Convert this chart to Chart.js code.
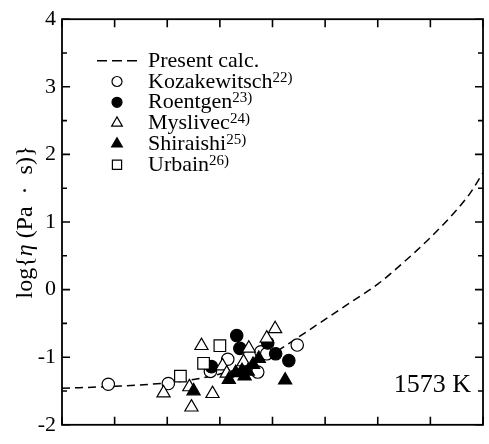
<!DOCTYPE html>
<html>
<head>
<meta charset="utf-8">
<style>
  html, body { margin: 0; padding: 0; background: #fff; }
  #wrap { width: 489px; height: 444px; position: relative; }
</style>
<script src="https://cdn.jsdelivr.net/npm/chart.js@4.4.1/dist/chart.umd.min.js"></script>
</head>
<body>
<div id="wrap"><canvas id="chart" width="489" height="444"></canvas></div>
<script>
// Calculated viscosity curve (log η in Pa·s)
const calcX = [0, 1, 2, 2.5, 3, 3.5, 4, 4.5, 5, 5.5, 6, 6.5, 7, 7.5, 7.75, 8];
const calcY = [-1.46, -1.43, -1.38, -1.33, -1.25, -1.13, -0.95, -0.70, -0.44, -0.18, 0.08, 0.41, 0.77, 1.18, 1.42, 1.73];

// Measured data by source
const kozakewitschX = [0.88, 2.02, 2.82, 3.15, 3.72, 3.78, 3.89, 4.47];
const kozakewitschY = [-1.40, -1.39, -1.21, -1.03, -1.22, -0.92, -0.95, -0.82];

const roentgenX = [2.84, 3.32, 3.38, 3.91, 4.06, 4.31];
const roentgenY = [-1.14, -0.68, -0.87, -0.79, -0.95, -1.05];

const myslivecX = [1.93, 2.42, 2.46, 2.86, 2.65, 3.55, 4.05, 3.89, 3.05, 3.13, 3.45];
const myslivecY = [-1.53, -1.44, -1.74, -1.54, -0.83, -0.87, -0.58, -0.72, -1.13, -1.24, -1.07];

const shiraishiX = [2.50, 4.24, 3.17, 3.30, 3.42, 3.53, 3.63, 3.74, 3.47];
const shiraishiY = [-1.50, -1.34, -1.33, -1.23, -1.20, -1.21, -1.11, -1.02, -1.28];

const urbainX = [2.25, 2.69, 3.00];
const urbainY = [-1.28, -1.09, -0.83];

const seriesNames = ['Present calc.', 'Kozakewitsch', 'Roentgen', 'Myslivec', 'Shiraishi', 'Urbain'];
const seriesRefs  = ['', '22)', '23)', '24)', '25)', '26)'];

const yTickLabels = ['-2', '-1', '0', '1', '2', '3', '4'];
const tempLabel = '1573 K';

const SERIF = '"Liberation Serif", "DejaVu Serif", serif';

function pts(xs, ys) { return xs.map((x, i) => ({ x: x, y: ys[i] })); }

function markerSet(name, ref, xs, ys, style, filled, radius, keyRadius, order) {
  return {
    label: name,
    ref: ref,
    data: pts(xs, ys),
    pointStyle: style,
    pointRadius: radius,
    pointHoverRadius: radius,
    pointBorderWidth: 1.2,
    borderColor: '#000',
    backgroundColor: filled ? '#000' : '#fff',
    pointBackgroundColor: filled ? '#000' : '#fff',
    pointBorderColor: '#000',
    showLine: false,
    order: order,
    keyRadius: keyRadius
  };
}

const datasets = [
  {
    label: seriesNames[0],
    ref: seriesRefs[0],
    data: pts(calcX, calcY),
    showLine: true,
    borderColor: '#000',
    borderWidth: 1.5,
    borderDash: [8, 5],
    pointRadius: 0,
    cubicInterpolationMode: 'monotone',
    fill: false,
    order: 10
  },
  markerSet(seriesNames[1], seriesRefs[1], kozakewitschX, kozakewitschY, 'circle', false, 6.2, 5, 5),
  markerSet(seriesNames[2], seriesRefs[2], roentgenX, roentgenY, 'circle', true, 6.2, 5, 4),
  markerSet(seriesNames[3], seriesRefs[3], myslivecX, myslivecY, 'triangle', false, 7.6, 6.2, 3),
  markerSet(seriesNames[4], seriesRefs[4], shiraishiX, shiraishiY, 'triangle', true, 7.6, 6.2, 2),
  markerSet(seriesNames[5], seriesRefs[5], urbainX, urbainY, 'rect', false, 8.2, 6.5, 1)
];

function drawMarker(ctx, ds, r, x, y) {
  ctx.save();
  ctx.lineWidth = ds.pointBorderWidth || 1.2;
  ctx.strokeStyle = '#000';
  ctx.fillStyle = ds.pointBackgroundColor;
  ctx.beginPath();
  if (ds.pointStyle === 'circle') {
    ctx.arc(x, y, r, 0, Math.PI * 2);
  } else if (ds.pointStyle === 'triangle') {
    for (let k = 0; k < 3; k++) {
      const a = k * 2 * Math.PI / 3;
      const px = x + Math.sin(a) * r, py = y - Math.cos(a) * r;
      if (k === 0) ctx.moveTo(px, py); else ctx.lineTo(px, py);
    }
    ctx.closePath();
  } else {
    const s = Math.SQRT1_2 * r;
    ctx.rect(x - s, y - s, 2 * s, 2 * s);
  }
  ctx.fill();
  ctx.stroke();
  ctx.restore();
}

// Box frame with inward ticks on all four sides
const framePlugin = {
  id: 'frameTicks',
  afterDatasetsDraw(chart) {
    const { ctx, chartArea: a, scales } = chart;
    ctx.save();
    ctx.strokeStyle = '#000';
    ctx.lineWidth = 1.6;
    ctx.beginPath();
    scales.y.ticks.forEach(t => {
      const py = scales.y.getPixelForValue(t.value);
      const len = Number.isInteger(t.value) ? 8 : 5;
      ctx.moveTo(a.left, py); ctx.lineTo(a.left + len, py);
      ctx.moveTo(a.right, py); ctx.lineTo(a.right - len, py);
    });
    scales.x.ticks.forEach(t => {
      const px = scales.x.getPixelForValue(t.value);
      ctx.moveTo(px, a.bottom); ctx.lineTo(px, a.bottom - 8);
      ctx.moveTo(px, a.top); ctx.lineTo(px, a.top + 8);
    });
    ctx.stroke();
    ctx.lineWidth = 1.8;
    ctx.strokeRect(a.left, a.top, a.right - a.left, a.bottom - a.top);
    ctx.restore();
  }
};

// Key, axis title and temperature note
const textPlugin = {
  id: 'keyAndText',
  afterDraw(chart) {
    const { ctx, chartArea: a } = chart;
    ctx.save();
    ctx.fillStyle = '#000';

    // key
    const keyX = 117, textX = 148, base0 = 66.7, step = 20.8;
    chart.data.datasets.forEach((ds, i) => {
      const base = base0 + i * step;
      const my = base - 6;
      if (ds.showLine) {
        ctx.save();
        ctx.strokeStyle = '#000';
        ctx.lineWidth = ds.borderWidth;
        ctx.setLineDash([10, 5]);
        ctx.beginPath();
        ctx.moveTo(keyX - 20, my); ctx.lineTo(keyX + 20, my);
        ctx.stroke();
        ctx.restore();
      } else {
        drawMarker(ctx, ds, ds.keyRadius, keyX, my);
      }
      ctx.font = '22px ' + SERIF;
      ctx.textAlign = 'left';
      ctx.textBaseline = 'alphabetic';
      ctx.fillText(ds.label, textX, base);
      if (ds.ref) {
        const w = ctx.measureText(ds.label).width;
        ctx.font = '15px ' + SERIF;
        ctx.fillText(ds.ref, textX + w, base - 6);
      }
    });

    // temperature
    ctx.font = '26px ' + SERIF;
    ctx.textAlign = 'right';
    ctx.textBaseline = 'alphabetic';
    ctx.fillText(tempLabel, a.right - 12, a.bottom - 33);

    // y axis title: log{η (Pa · s)} with italic eta
    const parts = [
      { t: 'log{', f: '24px ' + SERIF },
      { t: 'η', f: 'italic 24px ' + SERIF },
      { t: ' (Pa  ·  s)}', f: '24px ' + SERIF }
    ];
    let total = 0;
    parts.forEach(p => { ctx.font = p.f; p.w = ctx.measureText(p.t).width; total += p.w; });
    ctx.translate(32, (a.top + a.bottom) / 2);
    ctx.rotate(-Math.PI / 2);
    ctx.textAlign = 'left';
    ctx.textBaseline = 'alphabetic';
    let cx = -total / 2;
    parts.forEach(p => { ctx.font = p.f; ctx.fillText(p.t, cx, 0); cx += p.w; });
    ctx.restore();
  }
};

new Chart(document.getElementById('chart'), {
  type: 'scatter',
  data: { datasets: datasets },
  options: {
    responsive: false,
    animation: false,
    events: [],
    layout: { autoPadding: false, padding: { top: 15, right: 6, left: 0, bottom: 0 } },
    plugins: { legend: { display: false }, tooltip: { enabled: false } },
    scales: {
      x: {
        type: 'linear', min: 0, max: 8,
        ticks: { display: false, stepSize: 1 },
        grid: { display: false, drawTicks: false },
        border: { display: false },
        afterFit(scale) { scale.height = 6; }
      },
      y: {
        type: 'linear', min: -2, max: 4,
        ticks: {
          stepSize: 0.5,
          padding: 6,
          color: '#000',
          font: { family: SERIF, size: 22 },
          callback(v) {
            if (!Number.isInteger(v)) return '';
            const i = v + 2;
            return yTickLabels[i] !== undefined ? yTickLabels[i] : '';
          }
        },
        grid: { display: false, drawTicks: false },
        border: { display: false },
        afterFit(scale) { scale.width = 62; }
      }
    }
  },
  plugins: [framePlugin, textPlugin]
});
</script>
</body>
</html>
